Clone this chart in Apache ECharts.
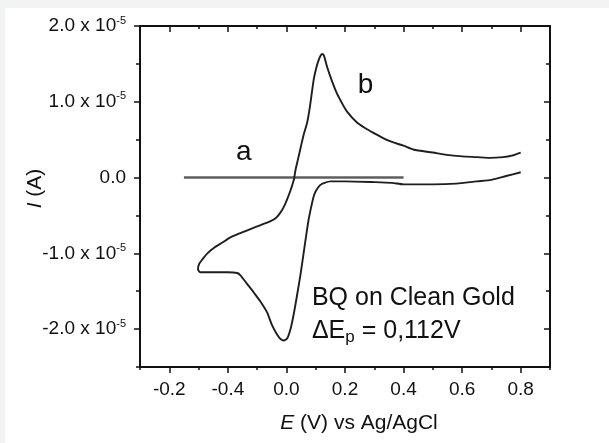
<!DOCTYPE html>
<html lang="en">
<head>
    <meta charset="UTF-8">
    <title>BQ on Clean Gold</title>
    <script src="https://cdn.jsdelivr.net/npm/echarts@6/dist/echarts.min.js"></script>
    <style>
        html, body { margin: 0; padding: 0; background: #fff; }
    </style>
</head>
<body>
    <div id="cv" style="width: 609px; height: 443px;"></div>
    <script>
    // current in units of 1e-5 A, potential in V
    // curve b : lower (cathodic) branch first, then upper (anodic) branch
    var curveE = [0.80, 0.75, 0.70, 0.65, 0.58, 0.50, 0.40, 0.36, 0.30, 0.20, 0.15, 0.13, 0.115, 0.10, 0.093, 0.085, 0.076, 0.068, 0.059, 0.048, 0.036, 0.025, 0.014, 0.003, -0.009, -0.02, -0.032, -0.05, -0.066, -0.09, -0.111, -0.135, -0.157, -0.168, -0.20, -0.25, -0.293, -0.302,
        -0.298, -0.287, -0.27, -0.247, -0.22, -0.191, -0.155, -0.123, -0.09, -0.054, -0.035, -0.02, -0.008, 0.002, 0.012, 0.019, 0.026, 0.031, 0.04, 0.05, 0.06, 0.0705, 0.08, 0.093, 0.102, 0.11, 0.117, 0.122, 0.128, 0.139, 0.155, 0.1725, 0.19, 0.207, 0.24, 0.27, 0.297, 0.33, 0.36, 0.40, 0.433, 0.50, 0.547, 0.60, 0.65, 0.695, 0.74, 0.77, 0.80];
    var curveI = [0.07, 0.02, -0.03, -0.05, -0.08, -0.09, -0.09, -0.07, -0.06, -0.05, -0.05, -0.07, -0.10, -0.18, -0.25, -0.38, -0.55, -0.75, -0.99, -1.28, -1.56, -1.80, -2.00, -2.12, -2.15, -2.13, -2.07, -1.94, -1.78, -1.63, -1.52, -1.40, -1.29, -1.26, -1.25, -1.25, -1.25, -1.21,
        -1.14, -1.08, -1.00, -0.925, -0.86, -0.79, -0.73, -0.68, -0.63, -0.575, -0.53, -0.46, -0.38, -0.29, -0.19, -0.11, -0.02, 0.10, 0.25, 0.42, 0.58, 0.72, 0.93, 1.29, 1.45, 1.55, 1.61, 1.63, 1.61, 1.46, 1.28, 1.11, 0.98, 0.87, 0.73, 0.65, 0.59, 0.52, 0.47, 0.42, 0.37, 0.33, 0.30, 0.28, 0.27, 0.26, 0.27, 0.29, 0.33];
    // curve a : flat baseline
    var baseE = [-0.35, 0.40];
    var baseI = [0, 0];

    var xMajor = [-0.4, -0.2, 0.0, 0.2, 0.4, 0.6, 0.8];
    var xMinor = [-0.5, -0.3, -0.1, 0.1, 0.3, 0.5, 0.7, 0.9];
    var xTickLabels = ['-0.2', '-0.4', '0.0', '0.2', '0.4', '0.6', '0.8'];   // as printed in the figure
    var yMajor = [-2, -1, 0, 1, 2];
    var yMinor = [-2.5, -1.5, -0.5, 0.5, 1.5];
    var yTickLabels = ['-2.0 x 10', '-1.0 x 10', '0.0', '1.0 x 10', '2.0 x 10'];

    function pairs(xs, ys) {
        var out = [];
        for (var i = 0; i < xs.length; i++) out.push([xs[i], ys[i]]);
        return out;
    }

    var FONT = 'Liberation Sans, Arial, sans-serif';
    var INK = '#111';

    function xLabel(v) {
        for (var i = 0; i < xMajor.length; i++) {
            if (Math.abs(xMajor[i] - v) < 1e-6) return xTickLabels[i];
        }
        return '';
    }
    function yLabel(v) {
        for (var i = 0; i < yMajor.length; i++) {
            if (Math.abs(yMajor[i] - v) < 1e-6) {
                if (yMajor[i] === 0) return '{n|' + yTickLabels[i] + '}';
                return '{n|' + yTickLabels[i] + '}{s|-5}';
            }
        }
        return '';
    }

    var axisLine = { show: true, onZero: false, lineStyle: { color: '#111', width: 2 } };
    var noLine = { show: false, onZero: false };
    function xAxisDef(pos, values, len, inside, withLabel, line) {
        return {
            type: 'value', position: pos, min: -0.5, max: 0.9,
            axisLine: line ? axisLine : noLine,
            splitLine: { show: false },
            axisTick: { show: true, customValues: values, length: len, inside: inside, lineStyle: { color: '#111', width: 1.5 } },
            axisLabel: withLabel ? {
                show: true, customValues: values, formatter: xLabel, margin: 13,
                fontFamily: FONT, fontSize: 19, color: INK
            } : { show: false }
        };
    }
    function yAxisDef(pos, values, len, inside, withLabel, line) {
        return {
            type: 'value', position: pos, min: -2.5, max: 2.0,
            axisLine: line ? axisLine : noLine,
            splitLine: { show: false },
            axisTick: { show: true, customValues: values, length: len, inside: inside, lineStyle: { color: '#111', width: 1.5 } },
            axisLabel: withLabel ? {
                show: true, customValues: values, formatter: yLabel, margin: 14,
                fontFamily: FONT, color: INK,
                rich: {
                    n: { fontFamily: FONT, fontSize: 19, color: INK },
                    s: { fontFamily: FONT, fontSize: 11, color: INK, verticalAlign: 'top', padding: [0, 0, 11, 0] }
                }
            } : { show: false }
        };
    }

    var xAxes = [
        xAxisDef('bottom', xMajor, 6, false, true, true),
        xAxisDef('bottom', xMinor, 3, false, false, false),
        xAxisDef('top', xMajor, 6, true, false, true),
        xAxisDef('top', xMinor, 3, true, false, false)
    ];
    xAxes[0].name = '{i|E} (V) vs Ag/AgCl';
    xAxes[0].nameLocation = 'middle';
    xAxes[0].nameGap = 46;
    xAxes[0].nameTextStyle = {
        fontFamily: FONT, fontSize: 21, color: INK, padding: [0, 0, 0, 28],
        rich: { i: { fontFamily: FONT, fontSize: 21, fontStyle: 'italic', color: INK } }
    };

    var yAxes = [
        yAxisDef('left', yMajor, 6, false, true, true),
        yAxisDef('left', yMinor, 4, false, false, false),
        yAxisDef('right', yMajor, 6, true, false, true),
        yAxisDef('right', yMinor, 4, true, false, false)
    ];

    var myChart = echarts.init(document.getElementById('cv'));
    var option = {
        animation: false,
        backgroundColor: '#ffffff',
        grid: { left: 140, top: 26, width: 410, height: 341, containLabel: false },
        xAxis: xAxes,
        yAxis: yAxes,
        series: [
            {
                name: 'a', type: 'line', xAxisIndex: 0, yAxisIndex: 0,
                data: pairs(baseE, baseI), showSymbol: false,
                lineStyle: { color: '#5e5e5e', width: 2.4 }, z: 3
            },
            {
                name: 'b', type: 'line', xAxisIndex: 0, yAxisIndex: 0,
                data: pairs(curveE, curveI), showSymbol: false, smooth: 0.25,
                lineStyle: { color: '#1e1e1e', width: 1.9 }, z: 4
            }
        ]
    };
    myChart.setOption(option);

    // free text, placed in data coordinates
    function px(e, i) {
        return myChart.convertToPixel({ xAxisIndex: 0, yAxisIndex: 0 }, [e, i]);
    }
    var pA = px(-0.146, 0.34), pB = px(0.27, 1.22), pBQ = px(0.087, -1.585), pDE = px(0.087, -2.03);
    var yMid = px(0, -0.25)[1];
    myChart.setOption({
        graphic: [
            { type: 'rect', left: 0, top: 0, shape: { width: 609, height: 8 }, style: { fill: '#f2f4f3' }, silent: true },
            { type: 'rect', left: 0, top: 0, shape: { width: 5, height: 443 }, style: { fill: '#f2f4f3' }, silent: true },
            {
                type: 'text', x: 35, y: yMid - 8, rotation: Math.PI / 2, silent: true,
                style: {
                    text: '{i|I} (A)', align: 'center', verticalAlign: 'middle', fill: INK,
                    font: '21px ' + FONT,
                    rich: { i: { fontFamily: FONT, fontSize: 21, fontStyle: 'italic', fill: INK } }
                }
            },
            { type: 'text', x: pA[0], y: pA[1], silent: true, style: { text: 'a', align: 'center', verticalAlign: 'middle', fill: INK, font: '28px ' + FONT } },
            { type: 'text', x: pB[0], y: pB[1], silent: true, style: { text: 'b', align: 'center', verticalAlign: 'middle', fill: INK, font: '28px ' + FONT } },
            { type: 'text', x: pBQ[0], y: pBQ[1], silent: true, style: { text: 'BQ on Clean Gold', align: 'left', verticalAlign: 'middle', fill: INK, font: '25px ' + FONT } },
            {
                type: 'text', x: pDE[0], y: pDE[1], silent: true,
                style: {
                    text: '{n|\u0394E}{p|p}{n| = 0,112V}', align: 'left', verticalAlign: 'middle', fill: INK,
                    font: '25px ' + FONT,
                    rich: {
                        n: { fontFamily: FONT, fontSize: 25, fill: INK },
                        p: { fontFamily: FONT, fontSize: 17, fill: INK, verticalAlign: 'bottom', padding: [12, 0, 0, 0] }
                    }
                }
            }
        ]
    });
    </script>
</body>
</html>
